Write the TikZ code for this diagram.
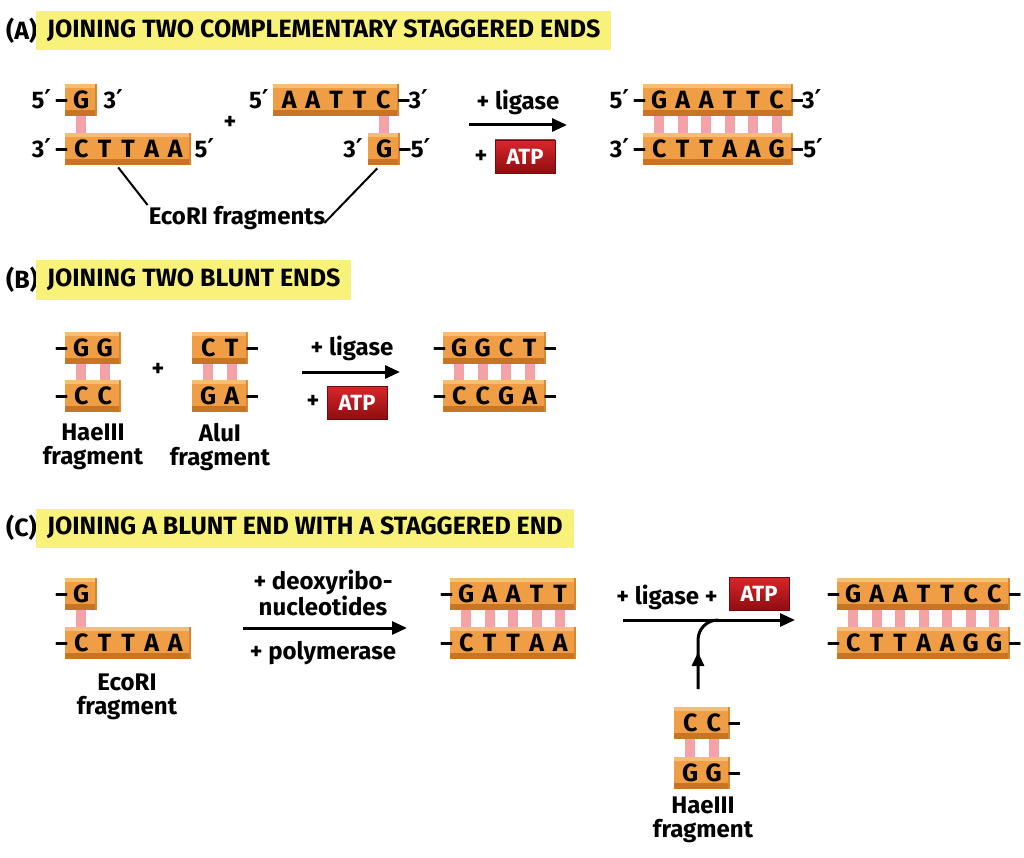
\documentclass[tikz,border=0pt]{standalone}
\usepackage{fontspec}
\setmainfont{Fira Sans}
\newfontfamily\symf{DejaVu Sans}
\usetikzlibrary{arrows.meta,decorations.markings,calc}
\definecolor{hl}{HTML}{F9F27A}
\definecolor{orbody}{HTML}{EF9E45}
\definecolor{ortop}{HTML}{F7BD74}
\definecolor{orbot}{HTML}{C77524}
\definecolor{rungc}{HTML}{F3A3A6}
\definecolor{atptop}{HTML}{D8262B}
\definecolor{atpbot}{HTML}{8F0D10}
\newcommand\pr{{\symf\bfseries\fontsize{26}{26}\selectfont ′}}
\newcommand\bases[1]{\foreach \b in {#1}{\makebox[23.5pt]{\b}}}
\newcommand\rungs[4]{\foreach \i in {1,...,#4}{\fill[rungc] ({#1+16+23.5*(\i-1)-5},#2) rectangle ({#1+16+23.5*(\i-1)+5},#3);}}
\tikzset{
  sb/.style={fill=orbody, minimum height=32pt, inner xsep=4.25pt, inner ysep=0pt,
    anchor=north west, font=\fontsize{25}{26}\selectfont\bfseries,
    path picture={
      \fill[ortop] (path picture bounding box.north west) rectangle ([yshift=-4pt]path picture bounding box.north east);
      \fill[orbot] ([yshift=6pt]path picture bounding box.south west) rectangle (path picture bounding box.south east);
      \fill[orbot!60!orbody] ([xshift=-2pt]path picture bounding box.north east) rectangle (path picture bounding box.south east);
    }},
  lab/.style={inner sep=0pt, font=\fontsize{24}{25}\selectfont\bfseries},
  txt/.style={inner sep=0pt, align=center, font=\fontsize{24}{24.5}\selectfont\bfseries},
  ttl/.style={fill=hl, inner xsep=11pt, inner ysep=0pt, minimum height=39pt, anchor=west,
    font=\fontsize{25}{28}\selectfont\bfseries},
  tlab/.style={inner sep=0pt, anchor=west, font=\fontsize{25}{28}\selectfont\bfseries},
  atp/.style={top color=atptop, bottom color=atpbot, draw=atpbot!80!black, line width=0.5pt,
    minimum width=60pt, minimum height=33pt, inner sep=0pt, text=white,
    font=\fontsize{22}{22}\selectfont\bfseries},
  arr/.style={line width=3pt, -{Triangle[length=15pt,width=13pt]}},
  ptr/.style={line width=2pt},
}
\begin{document}
\begin{tikzpicture}[x=1pt,y=-1pt]
\useasboundingbox[fill=white] (0,0) rectangle (1024,858);

% ---------- (A) ----------
\node[tlab] (lA) at (6,31) {(A)};
\node[ttl] (tA) at (36,31) {JOINING TWO COMPLEMENTARY STAGGERED ENDS};

\node[sb] (A1t) at (65,84) {\bases{G}};
\node[sb] (A1b) at (65,133) {\bases{C,T,T,A,A}};
\rungs{65}{116}{133}{1}
\node[lab,anchor=base east] (A1tl) at ([yshift=-8.6pt,xshift=3pt]A1t.west) {5\pr\,–};
\node[lab,anchor=base west] (A1tr) at ([yshift=-8.6pt,xshift=6pt]A1t.east) {3\pr};
\node[lab,anchor=base east] (A1bl) at ([yshift=-8.6pt,xshift=3pt]A1b.west) {3\pr\,–};
\node[lab,anchor=base west] (A1br) at ([yshift=-8.6pt,xshift=3pt]A1b.east) {5\pr};

\node[lab] (plusA) at (230,123) {+};

\node[sb] (A2t) at (273,84) {\bases{A,A,T,T,C}};
\node[sb] (A2b) at (368,133) {\bases{G}};
\fill[rungc] (378.5,116) rectangle (388.5,133);
\node[lab,anchor=base east] (A2tl) at ([yshift=-8.6pt,xshift=-4pt]A2t.west) {5\pr};
\node[lab,anchor=base west] (A2tr) at ([yshift=-8.6pt,xshift=-2pt]A2t.east) {–3\pr};
\node[lab,anchor=base east] (A2bl) at ([yshift=-8.6pt,xshift=-5pt]A2b.west) {3\pr};
\node[lab,anchor=base west] (A2br) at ([yshift=-8.6pt,xshift=-2pt]A2b.east) {–5\pr};

\node[lab] (ecoA) at (237,218) {EcoRI fragments};
\draw[ptr] ($(A1b.south)+(-10,2)$) -- ($(ecoA.north west)+(-1,-1)$);
\draw[ptr] ($(A2b.south)+(-7,3)$) -- ($(ecoA.east)+(-1,5)$);

\coordinate (aA1) at (469,125);
\coordinate (aA2) at (567,125);
\draw[arr] (aA1) -- (aA2);
\node[lab] (ligA) at (518,102) {+ ligase};
\node[lab] (pA) at (481,157) {+};
\node[atp] (atpA) at (525,156.5) {ATP};

\node[sb] (A3t) at (643,84) {\bases{G,A,A,T,T,C}};
\node[sb] (A3b) at (643,133) {\bases{C,T,T,A,A,G}};
\rungs{643}{116}{133}{6}
\node[lab,anchor=base east] (A3tl) at ([yshift=-8.6pt,xshift=3pt]A3t.west) {5\pr\,–};
\node[lab,anchor=base west] (A3tr) at ([yshift=-8.6pt,xshift=-2pt]A3t.east) {–3\pr};
\node[lab,anchor=base east] (A3bl) at ([yshift=-8.6pt,xshift=3pt]A3b.west) {3\pr\,–};
\node[lab,anchor=base west] (A3br) at ([yshift=-8.6pt,xshift=-2pt]A3b.east) {–5\pr};

% ---------- (B) ----------
\node[tlab] (lB) at (6,280) {(B)};
\node[ttl] (tB) at (36,280) {JOINING TWO BLUNT ENDS};

\node[sb] (B1t) at (65,332) {\bases{G,G}};
\node[sb] (B1b) at (65,380) {\bases{C,C}};
\rungs{65}{364}{380}{2}
\node[lab,anchor=base east] (B1tl) at ([yshift=-8.6pt,xshift=3pt]B1t.west) {–};
\node[lab,anchor=base east] (B1bl) at ([yshift=-8.6pt,xshift=3pt]B1b.west) {–};
\node[txt] (hB) at (93,447) {HaeIII\\fragment};

\node[lab] (plusB) at (158,370) {+};

\node[sb] (B2t) at (192,332) {\bases{C,T}};
\node[sb] (B2b) at (192,380) {\bases{G,A}};
\rungs{192}{364}{380}{2}
\node[lab,anchor=base west] (B2tr) at ([yshift=-8.6pt,xshift=-2pt]B2t.east) {–};
\node[lab,anchor=base west] (B2br) at ([yshift=-8.6pt,xshift=-2pt]B2b.east) {–};
\node[txt] (aB) at (220,447) {AluI\\fragment};

\coordinate (aB1) at (302,372);
\coordinate (aB2) at (400,372);
\draw[arr] (aB1) -- (aB2);
\node[lab] (ligB) at (352,348) {+ ligase};
\node[lab] (pB) at (313,402) {+};
\node[atp] (atpB) at (357,402.5) {ATP};

\node[sb] (B3t) at (443,332) {\bases{G,G,C,T}};
\node[sb] (B3b) at (443,380) {\bases{C,C,G,A}};
\rungs{443}{364}{380}{4}
\node[lab,anchor=base east] (B3tl) at ([yshift=-8.6pt,xshift=3pt]B3t.west) {–};
\node[lab,anchor=base east] (B3bl) at ([yshift=-8.6pt,xshift=3pt]B3b.west) {–};
\node[lab,anchor=base west] (B3tr) at ([yshift=-8.6pt,xshift=-2pt]B3t.east) {–};
\node[lab,anchor=base west] (B3br) at ([yshift=-8.6pt,xshift=-2pt]B3b.east) {–};

% ---------- (C) ----------
\node[tlab] (lC) at (6,528) {(C)};
\node[ttl] (tC) at (36,528) {JOINING A BLUNT END WITH A STAGGERED END};

\node[sb] (C1t) at (65,578) {\bases{G}};
\node[sb] (C1b) at (65,627) {\bases{C,T,T,A,A}};
\rungs{65}{610}{627}{1}
\node[lab,anchor=base east] (C1tl) at ([yshift=-8.6pt,xshift=3pt]C1t.west) {–};
\node[lab,anchor=base east] (C1bl) at ([yshift=-8.6pt,xshift=3pt]C1b.west) {–};
\node[txt] (eC) at (127,697) {EcoRI\\fragment};

\coordinate (aC1) at (243,628);
\coordinate (aC2) at (407,628);
\draw[arr] (aC1) -- (aC2);
\node[txt] (dC) at (323,593) {+ deoxyribo-\\nucleotides};
\node[lab] (polC) at (323,653) {+ polymerase};

\node[sb] (C2t) at (450,578) {\bases{G,A,A,T,T}};
\node[sb] (C2b) at (450,627) {\bases{C,T,T,A,A}};
\rungs{450}{610}{627}{5}
\node[lab,anchor=base east] (C2tl) at ([yshift=-8.6pt,xshift=3pt]C2t.west) {–};
\node[lab,anchor=base east] (C2bl) at ([yshift=-8.6pt,xshift=3pt]C2b.west) {–};

\coordinate (aD1) at (623,620);
\coordinate (aD2) at (795,620);
\draw[arr] (aD1) -- (aD2);
\node[lab] (ligC) at (667,597) {+ ligase +};
\node[atp] (atpC) at (759,593.5) {ATP};

\coordinate (cv0) at (698,689);
\coordinate (cv1) at (698,640);
\coordinate (cv2) at (718,620);
\draw[line width=3pt, decoration={markings, mark=at position 37pt with {\arrow{Triangle[length=14pt,width=12pt]}}}, postaction={decorate}]
  (cv0) -- (cv1) to[out=90,in=180] (cv2);

\node[sb] (C3t) at (837,578) {\bases{G,A,A,T,T,C,C}};
\node[sb] (C3b) at (837,627) {\bases{C,T,T,A,A,G,G}};
\rungs{837}{610}{627}{7}
\node[lab,anchor=base east] (C3tl) at ([yshift=-8.6pt,xshift=3pt]C3t.west) {–};
\node[lab,anchor=base east] (C3bl) at ([yshift=-8.6pt,xshift=3pt]C3b.west) {–};
\node[lab,anchor=base west] (C3tr) at ([yshift=-8.6pt,xshift=-2pt]C3t.east) {–};
\node[lab,anchor=base west] (C3br) at ([yshift=-8.6pt,xshift=-2pt]C3b.east) {–};

\node[sb] (C4t) at (674,707) {\bases{C,C}};
\node[sb] (C4b) at (674,757) {\bases{G,G}};
\rungs{674}{739}{757}{2}
\node[lab,anchor=base west] (C4tr) at ([yshift=-8.6pt,xshift=-2pt]C4t.east) {–};
\node[lab,anchor=base west] (C4br) at ([yshift=-8.6pt,xshift=-2pt]C4b.east) {–};
\node[txt] (hC) at (703,820) {HaeIII\\fragment};
\end{tikzpicture}
\end{document}
